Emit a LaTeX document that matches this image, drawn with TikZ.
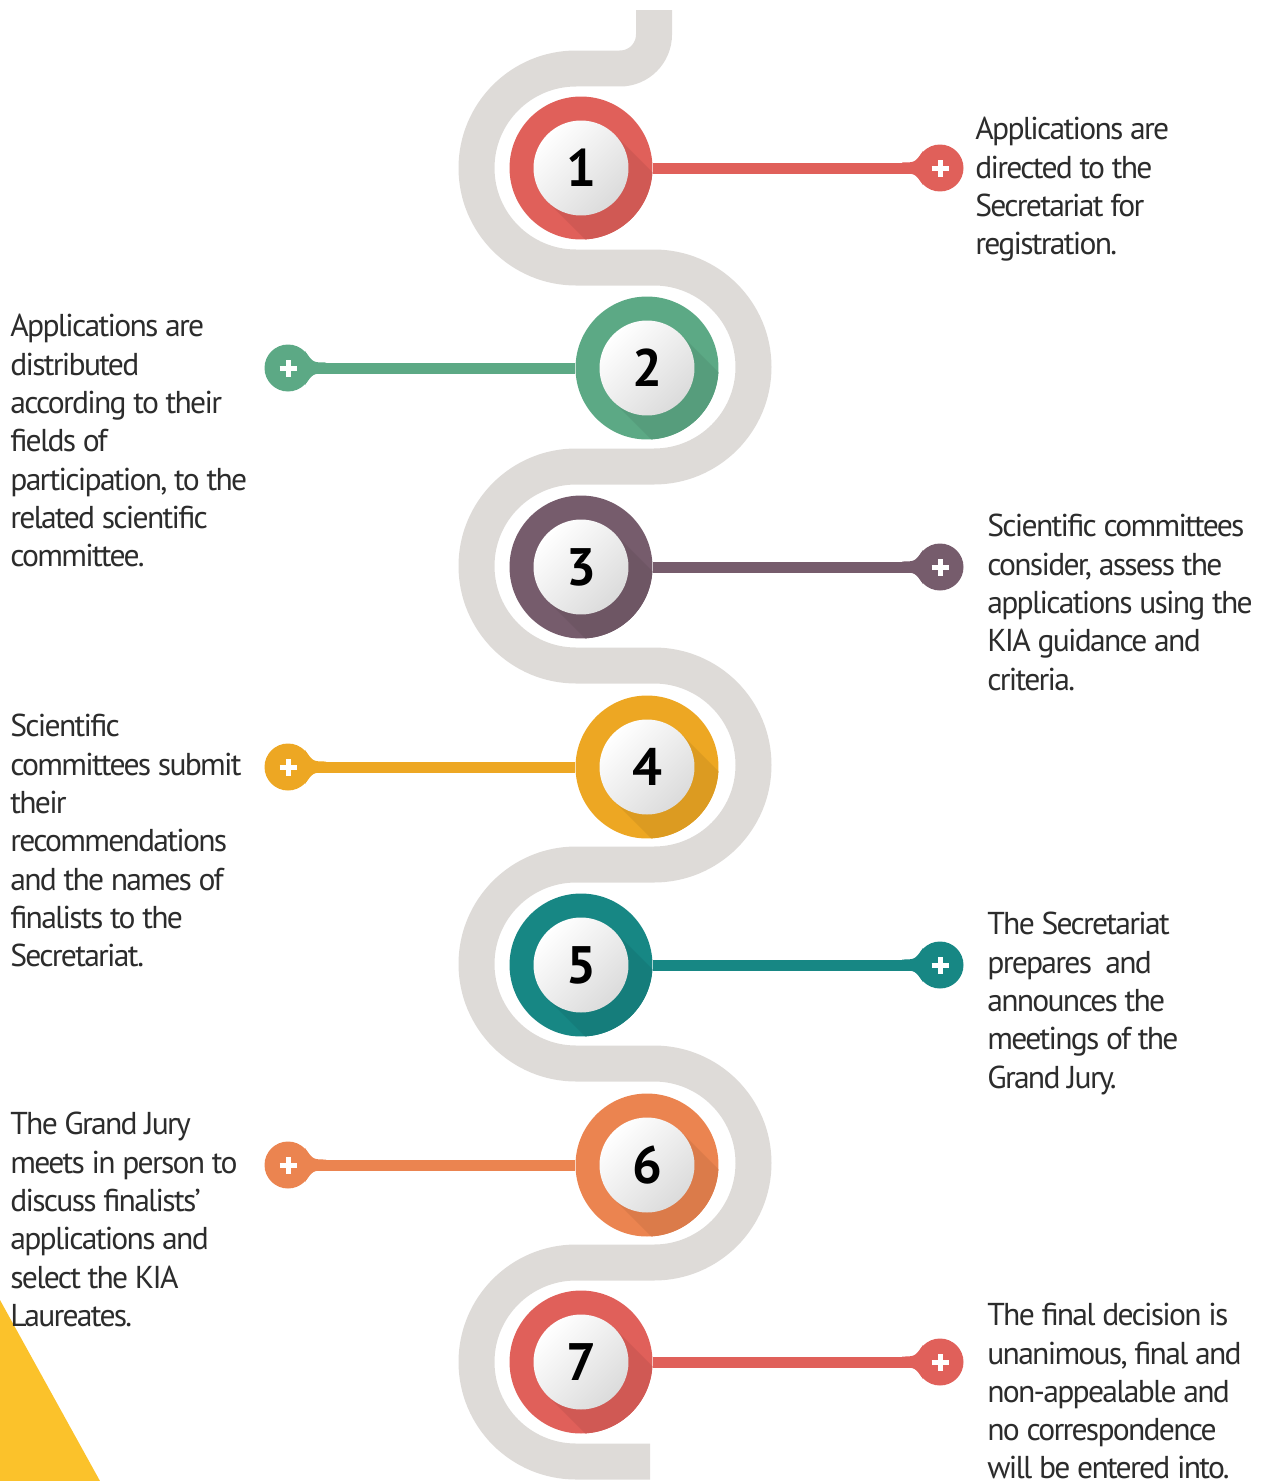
\documentclass[tikz,border=0pt]{standalone}
\usepackage{fontspec}
\setmainfont{PT Sans}[LetterSpace=-5.5]
\usepackage{tikz}
\usetikzlibrary{calc}
\definecolor{kRed}{HTML}{E0605A}
\definecolor{kGreen}{HTML}{5CA985}
\definecolor{kPurple}{HTML}{765C6C}
\definecolor{kYellow}{HTML}{EDA723}
\definecolor{kTeal}{HTML}{178784}
\definecolor{kOrange}{HTML}{EB8450}
\definecolor{roadgray}{HTML}{DEDBD8}
\definecolor{cornerY}{HTML}{FBC22B}
\definecolor{txtgray}{HTML}{2C2C2C}

\begin{document}
\begin{tikzpicture}[x=0.02cm,y=-0.02cm,
  road/.style={draw=roadgray, line width=0.72cm},
  ring/.style={circle, fill=#1, minimum size=2.86cm, inner sep=0pt},
  ball/.style={circle, minimum size=1.9cm, inner sep=0pt, top color=white,
    bottom color=gray!28, shading angle=45, font=\fontsize{30}{30}\selectfont\bfseries},
  knob/.style={circle, fill=#1, minimum size=0.94cm, inner sep=0pt},
  plusmark/.style={white, line width=0.1cm},
  desc/.style={font=\fontsize{18}{21.8}\selectfont, text=txtgray, align=left,
    inner sep=0pt, anchor=north west}]
  \useasboundingbox (0,0) rectangle (1268,1481);
  % Esquina
  \fill[cornerY] (0,1300) -- (100,1481) -- (0,1481) -- cycle;
  % Camino
  \draw[road] (654,10) -- (654,34.5) arc[start angle=0, end angle=90, radius=34]
    -- (576,68.5)
    \foreach \k in {1,2,3} {
      arc[start angle=-90, end angle=-270, radius=99.5] -- ++(78,0)
      arc[start angle=-90, end angle=90, radius=99.5] -- ++(-78,0)
    }
    arc[start angle=-90, end angle=-270, radius=99.5] -- ++(74,0);
  % Pasos
  \foreach \n/\cy/\cx/\bx/\s/\col in {1/168/581/940/1/kRed, 2/368/647/288/-1/kGreen,
      3/567/581/940/1/kPurple, 4/767/647/288/-1/kYellow, 5/965/581/940/1/kTeal,
      6/1165/647/288/-1/kOrange, 7/1362/581/940/1/kRed} {
    \node[ring=\col] (c\n) at (\cx,\cy) {};
    \node[knob=\col] (b\n) at (\bx,\cy) {};
    \draw[\col, line width=0.22cm] (c\n) -- (b\n);
    \fill[\col] ({\bx-\s*17},{\cy-17}) .. controls ({\bx-\s*25},{\cy-5.5}) .. ({\bx-\s*38},{\cy-5.5})
      -- ({\bx-\s*38},{\cy+5.5}) .. controls ({\bx-\s*25},{\cy+5.5}) .. ({\bx-\s*17},{\cy+17}) -- cycle;
    \draw[plusmark] ([xshift=-0.17cm]b\n.center) -- ([xshift=0.17cm]b\n.center);
    \draw[plusmark] ([yshift=-0.17cm]b\n.center) -- ([yshift=0.17cm]b\n.center);
    \begin{scope}
      \clip (\cx,\cy) circle[radius=71.5];
      \fill[\col!93!black] ({\cx+33.6},{\cy-33.6}) -- ++(110,110) -- ++(-67.2,67.2)
        -- ({\cx-33.6},{\cy+33.6}) -- cycle;
    \end{scope}
    \node[ball] (w\n) at (c\n) {\n};
  }
  % Textos
  \node[desc] (t1) at (975,117) {Applications are\\directed to the\\Secretariat for\\registration.};
  \node[desc] (t2) at (10,314) {Applications are\\distributed\\according to their\\fields of\\participation, to the\\related scientific\\committee.};
  \node[desc] (t3) at (987,514) {Scientific committees\\consider, assess the\\applications using the\\KIA guidance and\\criteria.};
  \node[desc] (t4) at (10,714) {Scientific\\committees submit\\their\\recommendations\\and the names of\\finalists to the\\Secretariat.};
  \node[desc] (t5) at (987,912) {The Secretariat\\prepares\ \ and\\announces the\\meetings of the\\Grand Jury.};
  \node[desc] (t6) at (10,1112) {The Grand Jury\\meets in person to\\discuss finalists'\\applications and\\select the KIA\\Laureates.};
  \node[desc] (t7) at (987,1303) {The final decision is\\unanimous, final and\\non-appealable and\\no correspondence\\will be entered into.};
\end{tikzpicture}
\end{document}
